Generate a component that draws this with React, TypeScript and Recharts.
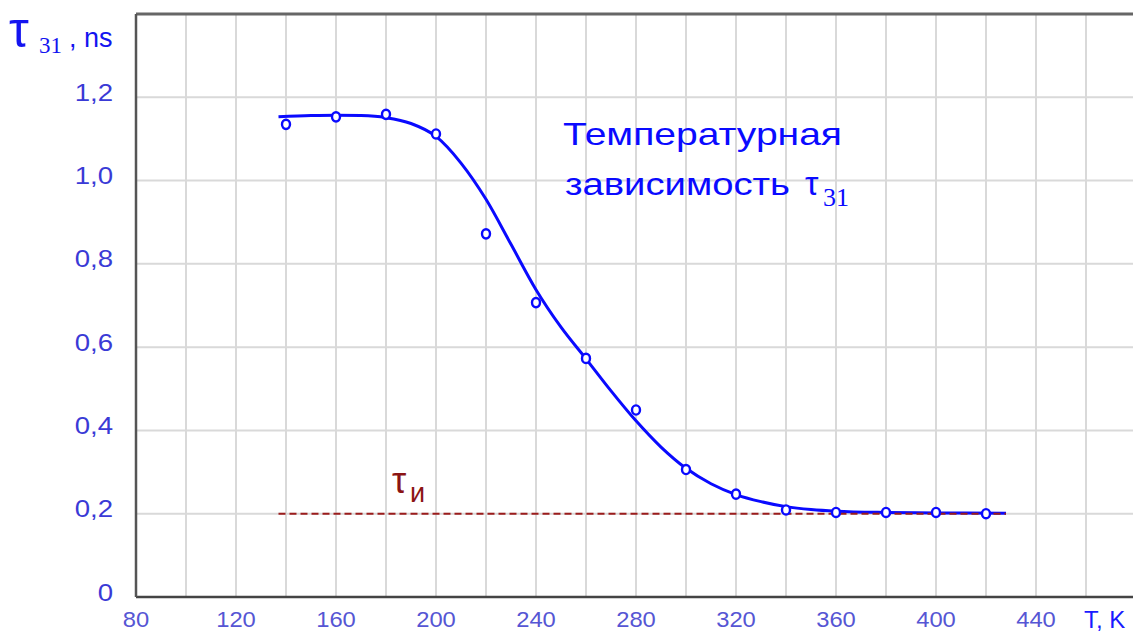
import React from 'react';
import { ComposedChart, Line, Scatter, XAxis, YAxis, CartesianGrid, ReferenceLine } from 'recharts';

// measured lifetime points, T in K, tau in ns
const tempK = [140, 160, 180, 200, 220, 240, 260, 280, 300, 320, 340, 360, 380, 400, 420];
const tauMeasured = [1.135, 1.153, 1.159, 1.112, 0.872, 0.707, 0.573, 0.449, 0.306, 0.247, 0.209, 0.203, 0.203, 0.203, 0.2];

// smooth fit curve read at 10 K steps
const fitTempK = [137, 150, 160, 170, 180, 190, 200, 210, 220, 230, 240, 250, 260, 270, 280, 290, 300, 310, 320, 330, 340, 350, 360, 380, 400, 428];
const fitTau = [1.153, 1.156, 1.157, 1.156, 1.151, 1.137, 1.106, 1.042, 0.955, 0.847, 0.738, 0.648, 0.572, 0.495, 0.423, 0.36, 0.309, 0.272, 0.246, 0.229, 0.217, 0.21, 0.206, 0.203, 0.202, 0.201];

// instrument response level
const tauInstrument = 0.2;
const instrTempK = [137, 428];

const xTicks = [80, 100, 120, 140, 160, 180, 200, 220, 240, 260, 280, 300, 320, 340, 360, 380, 400, 420, 440, 460];
const yTicks = [0, 0.2, 0.4, 0.6, 0.8, 1.0, 1.2, 1.4];

const measured = tempK.map((t, i) => ({ t, tau: tauMeasured[i] }));
const fit = fitTempK.map((t, i) => ({ t, tau: fitTau[i] }));
const instr = instrTempK.map((t) => ({ t, tau: tauInstrument }));

const SANS = '"Liberation Sans", Arial, sans-serif';
const SERIF = '"Liberation Serif", "Times New Roman", serif';
const BLUE = '#0a0aff';

const fmtY = (v: number) => (v === 0 ? '0' : v >= 1.39 ? '' : v.toFixed(1).replace('.', ','));
const fmtX = (v: number) => (v % 40 === 0 && v <= 440 ? String(v) : '');

const YTick = ({ x, y, payload }: any) => {
  const label = fmtY(payload.value);
  if (!label) return null;
  return (
    <text transform={`translate(${x},${y - 5}) scale(1.15,1)`} dy="0.355em" textAnchor="end"
      fontFamily={SANS} fontSize={24} fill="#3a3ad6">{label}</text>
  );
};

const XTick = ({ x, y, payload }: any) => {
  const label = fmtX(payload.value);
  if (!label) return null;
  return (
    <text transform={`translate(${x},${y}) scale(1.08,1)`} dy="0.71em" textAnchor="middle"
      fontFamily={SANS} fontSize={22} fill="#5656d4">{label}</text>
  );
};

const Dot = (p: any) => (
  <ellipse cx={p.cx} cy={p.cy} rx={4} ry={4.6} fill="#fff" stroke={BLUE} strokeWidth={2.4} />
);

export default function App() {
  // plot runs past the right edge of the frame, so it has no right border
  return (
    <div style={{ position: 'absolute', left: 0, top: 0, width: 1133, height: 632, background: '#fff', overflow: 'hidden' }}>
      <ComposedChart width={1160} height={632} margin={{ top: 14, right: 0, bottom: 0, left: 0 }}>
        <CartesianGrid stroke="#d9d9d9" strokeWidth={2} />
        <XAxis type="number" dataKey="t" domain={[80, 489.6]} ticks={xTicks} allowDataOverflow
          height={35} tickLine={false} tickSize={6} tickMargin={8}
          axisLine={{ stroke: '#444', strokeWidth: 2.5 }} tick={<XTick />} />
        <YAxis type="number" dataKey="tau" domain={[0, 1.4]} ticks={yTicks} width={136}
          tickLine={false} tickSize={6} tickMargin={17}
          axisLine={{ stroke: '#555', strokeWidth: 2.5 }} tick={<YTick />} />
        <ReferenceLine y={1.4} stroke="#666" strokeWidth={3} />
        <Line data={fit} dataKey="tau" type="monotone" stroke={BLUE} strokeWidth={3} dot={false} isAnimationActive={false} />
        <Line data={instr} dataKey="tau" type="linear" stroke="#9b1c1c" strokeWidth={2} strokeDasharray="7 4" dot={false} isAnimationActive={false} />
        <Scatter data={measured} dataKey="tau" shape={Dot} isAnimationActive={false} />
      </ComposedChart>

      <svg width={1133} height={632} style={{ position: 'absolute', left: 0, top: 0, pointerEvents: 'none' }}>
        {/* axis titles */}
        <text x={9} y={47} fontFamily={SANS} fontSize={50} fill="#1414f0">τ</text>
        <text x={39} y={53} fontFamily={SERIF} fontSize={23} fill="#1414f0">31</text>
        <text x={69} y={47} fontFamily={SANS} fontSize={27} fill="#1414f0">, ns</text>
        <text x={1084} y={628} fontFamily={SANS} fontSize={24} fill="#1a1aff">T, K</text>

        {/* curve caption */}
        <text x={563} y={145} fontFamily={SANS} fontSize={32} fill={BLUE} textLength={279} lengthAdjust="spacingAndGlyphs">Температурная</text>
        <text x={565} y={195} fontFamily={SANS} fontSize={32} fill={BLUE} textLength={225} lengthAdjust="spacingAndGlyphs">зависимость</text>
        <text x={805} y={195} fontFamily={SANS} fontSize={34} fill={BLUE}>τ</text>
        <text x={823} y={206} fontFamily={SERIF} fontSize={26} fill={BLUE}>31</text>

        {/* instrument level label */}
        <text x={392} y={493} fontFamily={SANS} fontSize={36} fill="#8b1414">τ</text>
        <text x={410} y={502} fontFamily={SANS} fontSize={27} fill="#8b1414">и</text>
      </svg>
    </div>
  );
}
